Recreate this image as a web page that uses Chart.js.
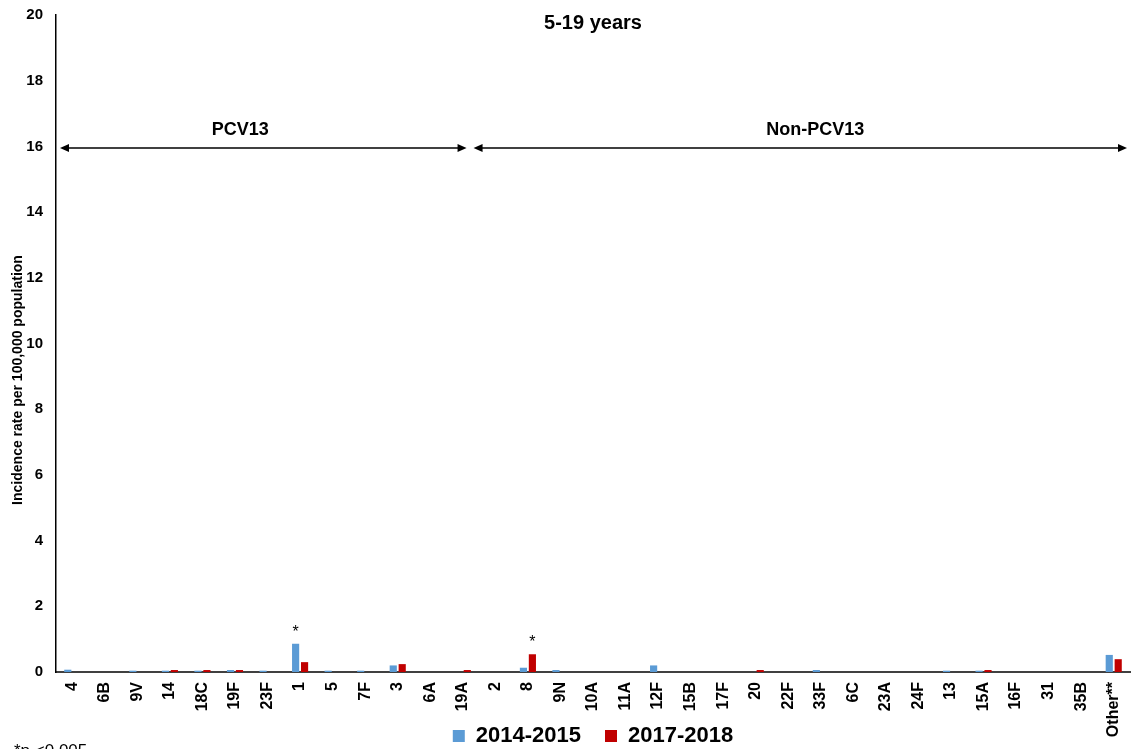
<!DOCTYPE html>
<html><head><meta charset="utf-8">
<script src="https://cdn.jsdelivr.net/npm/chart.js@4"></script>
<style>html,body{margin:0;padding:0;background:#fff;overflow:hidden}</style>
</head><body>
<canvas id="c" width="1140" height="749"></canvas>
<script>
const categories = ['4','6B','9V','14','18C','19F','23F','1','5','7F','3','6A','19A','2','8','9N','10A','11A','12F','15B','17F','20','22F','33F','6C','23A','24F','13','15A','16F','31','35B','Other**'];
const series2014 = [0.07,0,0.04,0.04,0.04,0.06,0.04,0.86,0.04,0.04,0.20,0,0,0,0.13,0.06,0,0,0.20,0,0,0,0,0.06,0,0,0,0.04,0.04,0,0,0,0.52];
const series2017 = [0,0,0,0.06,0.06,0.06,0,0.30,0,0,0.24,0,0.06,0,0.54,0,0,0,0,0,0,0.06,0,0,0,0,0,0,0.06,0,0,0,0.39];
const seriesNames = ['2014-2015','2017-2018'];
const yTicks = [0,2,4,6,8,10,12,14,16,18,20];
const significant = [{category:'1', series:0}, {category:'8', series:1}];
const groups = [{label:'PCV13', from:'4', to:'19A'}, {label:'Non-PCV13', from:'2', to:'Other**'}];
const groupLevel = 16;
const chartTitle = '5-19 years';
const yTitle = 'Incidence rate per 100,000 population';
const footnote = '*p <0.005';

const FONT = '"Liberation Sans", Arial, sans-serif';

const annot = {
  id: 'annot',
  afterLayout(chart) {
    // let rotated category labels extend below the axis box (into legend band)
    chart.scales.x.bottom = chart.height;
  },
  afterDraw(chart) {
    const {ctx, chartArea: a, scales: {x, y}} = chart;
    ctx.save();
    ctx.fillStyle = '#000';
    // title
    ctx.font = 'bold 20px ' + FONT;
    ctx.textAlign = 'center';
    ctx.textBaseline = 'middle';
    ctx.fillText(chartTitle, (a.left + a.right) / 2, 23);
    // y title
    ctx.save();
    ctx.translate(18, 380);
    ctx.rotate(-Math.PI / 2);
    ctx.font = 'bold 14px ' + FONT;
    ctx.fillText(yTitle, 0, 0);
    ctx.restore();
    // asterisks
    ctx.font = '16px ' + FONT;
    ctx.textBaseline = 'alphabetic';
    significant.forEach(s => {
      const idx = categories.indexOf(s.category);
      const bar = chart.getDatasetMeta(s.series).data[idx];
      ctx.fillText('*', bar.x, bar.y - 7);
    });
    // group arrows
    const half = (x.getPixelForValue(1) - x.getPixelForValue(0)) / 2;
    const yy = y.getPixelForValue(groupLevel) + 1.5;
    const insets = [[4, -12.5], [-5.5, -3]];
    const labelShift = [-23, 15];
    ctx.strokeStyle = '#000';
    ctx.lineWidth = 1.5;
    groups.forEach((g, i) => {
      const x0 = x.getPixelForValue(categories.indexOf(g.from)) - half + insets[i][0];
      const x1 = x.getPixelForValue(categories.indexOf(g.to)) + half + insets[i][1];
      ctx.beginPath();
      ctx.moveTo(x0 + 6, yy);
      ctx.lineTo(x1 - 6, yy);
      ctx.stroke();
      ctx.beginPath();
      ctx.moveTo(x0, yy); ctx.lineTo(x0 + 9, yy - 4); ctx.lineTo(x0 + 9, yy + 4); ctx.closePath(); ctx.fill();
      ctx.beginPath();
      ctx.moveTo(x1, yy); ctx.lineTo(x1 - 9, yy - 4); ctx.lineTo(x1 - 9, yy + 4); ctx.closePath(); ctx.fill();
      ctx.font = 'bold 18px ' + FONT;
      ctx.textBaseline = 'middle';
      ctx.fillText(g.label, (x0 + x1) / 2 + labelShift[i], yy - 18);
      ctx.textBaseline = 'alphabetic';
    });
    // footnote
    ctx.textAlign = 'left';
    ctx.font = '17px ' + FONT;
    ctx.fillText(footnote, 14, 756);
    ctx.restore();
  }
};

new Chart(document.getElementById('c'), {
  type: 'bar',
  data: {
    labels: categories,
    datasets: [
      {label: seriesNames[0], data: series2014, backgroundColor: '#5B9BD5', categoryPercentage: 0.55, barPercentage: 0.8},
      {label: seriesNames[1], data: series2017, backgroundColor: '#C00000', categoryPercentage: 0.55, barPercentage: 0.8}
    ]
  },
  options: {
    responsive: false,
    animation: false,
    layout: {padding: {top: 15, right: 10, bottom: -8, left: 0}},
    plugins: {
      title: {display: false},
      tooltip: {enabled: false},
      legend: {
        display: true,
        position: 'bottom',
        fullSize: false,
        labels: {
          boxWidth: 12, boxHeight: 12, padding: 24,
          color: '#000',
          font: {family: FONT, size: 22, weight: 'bold'}
        }
      }
    },
    scales: {
      x: {
        grid: {display: false, drawTicks: false},
        border: {display: true, color: '#404040', width: 2},
        ticks: {
          color: '#000', padding: 10, autoSkip: false,
          minRotation: 90, maxRotation: 90,
          font: {family: FONT, size: 16, weight: 'bold'}
        },
        afterFit(s) { s.height = 29; s.paddingLeft = 0; s.paddingRight = 0; }
      },
      y: {
        min: 0, max: 20,
        afterBuildTicks(s) { s.ticks = yTicks.map(v => ({value: v})); },
        grid: {display: false, drawTicks: false},
        border: {display: true, color: '#000', width: 1.5},
        ticks: {
          color: '#000', padding: 13,
          font: {family: FONT, size: 15, weight: 'bold'}
        },
        afterFit(s) { s.width = 56; s.paddingTop = 0; s.paddingBottom = 0; }
      }
    }
  },
  plugins: [annot]
});
</script>
</body></html>
